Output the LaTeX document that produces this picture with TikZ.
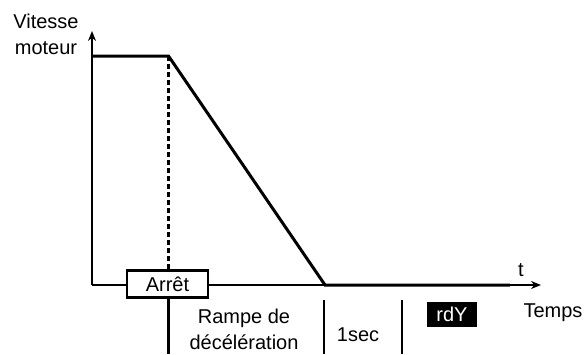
\documentclass[tikz,border=0pt]{standalone}
\usepackage{fontspec}
\setmainfont{Liberation Sans}
\usetikzlibrary{arrows.meta}

\tikzset{every picture/.style={line width=0.75pt}}
\tikzset{
  lbl/.style={font=\fontsize{20}{26}\selectfont, inner sep=0pt, align=center},
  axis/.style={line width=1.5, -{Stealth[length=10,width=8]}},
  courbe/.style={line width=3, line join=miter},
  sep/.style={line width=1.6}
}

\begin{document}
\begin{tikzpicture}[x=1pt,y=1pt,yscale=-1,xscale=1]
\useasboundingbox (0,0) rectangle (585,354);

%Axes
\coordinate (O) at (92,285);
\coordinate (ytop) at (92,31);
\coordinate (xend) at (541,285);
\draw [axis] (O) -- (ytop);
\draw [axis] (O) -- (xend);

%Courbe vitesse
\coordinate (c0) at (92,56);
\coordinate (c1) at (168.5,56);
\coordinate (c2) at (325,285);
\coordinate (c3) at (510,285);
\draw [courbe] (c0) -- (c1) -- (c2) -- (c3);

%Arret
\node [lbl, draw, line width=2.4, fill=white, minimum width=81, minimum height=27] (arret) at (167.5,284) {Arrêt};
\draw [line width=2.8, dash pattern=on 5pt off 3pt] (c1) -- (arret.north -| c1);
\coordinate (a1) at (168.5,354);
\draw [line width=2.8] (arret.south -| a1) -- (a1);

%Separateurs
\coordinate (s1a) at (324,300);
\coordinate (s1b) at (324,354);
\coordinate (s2a) at (402,300);
\coordinate (s2b) at (402,354);
\draw [sep] (s1a) -- (s1b);
\draw [sep] (s2a) -- (s2b);

%Textes
\node [lbl] (vitesse) at (46,34) {Vitesse\\moteur};
\node [lbl] (t) at (521,270) {t};
\node [lbl] (temps) at (553,313) {Temps};
\node [lbl] (rampe) at (244,329) {Rampe de\\décélération};
\node [lbl] (unesec) at (358,335) {1sec};
\node [lbl, fill=black, text=white, minimum width=50, minimum height=25] (rdy) at (452,314) {rdY};

\end{tikzpicture}
\end{document}
